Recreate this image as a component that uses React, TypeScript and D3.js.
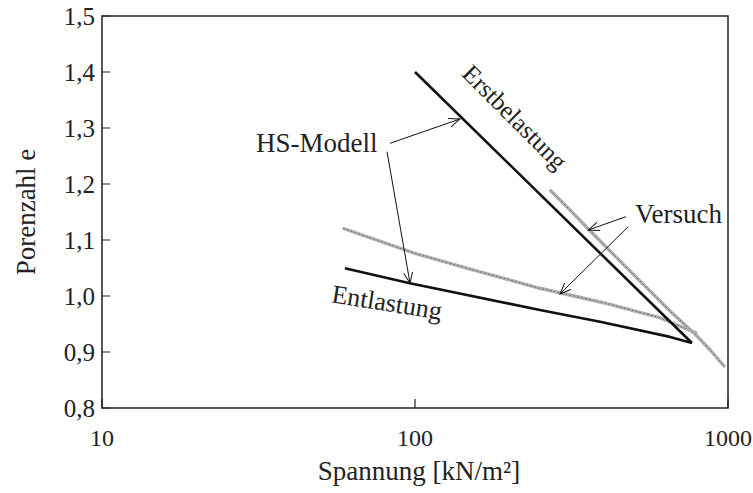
import React from "react";
import * as d3 from "d3";

// ---- data (σ in kN/m², e = Porenzahl) ----
const hsLoadSigma = [100, 767];
const hsLoadE = [1.4, 0.916];
const hsUnloadSigma = [767, 653, 390, 250.6, 96.3, 59.7];
const hsUnloadE = [0.916, 0.927, 0.954, 0.975, 1.0227, 1.0495];
const testLoadSigma = [270, 312.8, 357.9, 419.8, 523.4, 652.8, 796, 888.8, 977];
const testLoadE = [1.1893, 1.1536, 1.1196, 1.0804, 1.0268, 0.9732, 0.9286, 0.9, 0.8732];
const testUnloadSigma = [796, 600, 400, 250.6, 150, 100, 58.8];
const testUnloadE = [0.9334, 0.962, 0.988, 1.0138, 1.048, 1.076, 1.121];

const xTicks = [10, 100, 1000];
const yTicks = [0.8, 0.9, 1.0, 1.1, 1.2, 1.3, 1.4, 1.5];

const W = 753, H = 493;
const M = { left: 102, right: 728, top: 16, bottom: 408 };
const FONT = "'Liberation Serif', 'Times New Roman', serif";

export default function App() {
  const x = d3.scaleLog().domain([10, 1000]).range([M.left, M.right]);
  const y = d3.scaleLinear().domain([0.8, 1.5]).range([M.bottom, M.top]);
  const line = d3
    .line<[number, number]>()
    .x((d) => x(d[0]))
    .y((d) => y(d[1]));
  const zip = (a: number[], b: number[]) => a.map((v, i) => [v, b[i]] as [number, number]);

  const arrows: [number, number, number, number][] = [
    [83.2, 1.2727, 139.2, 1.316],
    [81.4, 1.2577, 96.4, 1.0227],
    [472, 1.1416, 357.9, 1.1179],
    [480, 1.1238, 290.5, 1.0036],
  ];

  const grayPath = (p: string | null, key: string) => (
    <g key={key}>
      <path d={p || ""} fill="none" stroke="#b0b0b0" strokeWidth={3.4} strokeLinejoin="round" />
      <path d={p || ""} fill="none" stroke="#5e5e5e" strokeWidth={0.9} strokeDasharray="1.5 2.5" />
    </g>
  );

  return (
    <svg width={W} height={H} style={{ display: "block", position: "absolute", left: 0, top: 0, background: "#fff" }}>
      <defs>
        <marker id="ah" viewBox="0 0 12 10" refX="11" refY="5" markerWidth="12" markerHeight="10" orient="auto" markerUnits="userSpaceOnUse">
          <path d="M0,0.5 L11,5 L0,9.5" fill="none" stroke="#111" strokeWidth={1} />
        </marker>
      </defs>
      {/* frame */}
      <rect x={M.left} y={M.top} width={M.right - M.left} height={M.bottom - M.top} fill="none" stroke="#222" strokeWidth={1.5} />
      {/* y ticks */}
      {yTicks.map((t) => (
        <g key={"y" + t}>
          <line x1={M.left} x2={M.left + 8} y1={y(t)} y2={y(t)} stroke="#222" strokeWidth={1} />
          <text x={M.left - 7} y={y(t)} dy="0.35em" textAnchor="end" fontFamily={FONT} fontSize={25} fill="#222">
            {t.toFixed(1).replace(".", ",")}
          </text>
        </g>
      ))}
      {/* x ticks */}
      {xTicks.map((t) => (
        <g key={"x" + t}>
          <line x1={x(t)} x2={x(t)} y1={M.bottom} y2={M.bottom - 9} stroke="#222" strokeWidth={1.2} />
          <text x={x(t)} y={M.bottom + 38} textAnchor="middle" fontFamily={FONT} fontSize={24} fill="#222">
            {t}
          </text>
        </g>
      ))}
      <text x={(M.left + M.right) / 2 + 4} y={480} textAnchor="middle" fontFamily={FONT} fontSize={27} fill="#222">
        Spannung [kN/m²]
      </text>
      <text transform={`translate(35,${(M.top + M.bottom) / 2}) rotate(-90)`} textAnchor="middle" fontFamily={FONT} fontSize={27} fill="#222">
        Porenzahl e
      </text>

      {/* Versuch (gray) */}
      {grayPath(line(zip(testUnloadSigma, testUnloadE)), "tu")}
      {grayPath(line(zip(testLoadSigma, testLoadE)), "tl")}

      {/* HS-Modell (black) */}
      <path d={line(zip(hsLoadSigma, hsLoadE)) || ""} fill="none" stroke="#111" strokeWidth={2.6} strokeLinejoin="round" />
      <path d={line(zip(hsUnloadSigma, hsUnloadE)) || ""} fill="none" stroke="#111" strokeWidth={2.6} strokeLinejoin="round" />

      {/* annotations */}
      {arrows.map((a, i) => (
        <line key={"a" + i} x1={x(a[0])} y1={y(a[1])} x2={x(a[2])} y2={y(a[3])} stroke="#111" strokeWidth={1} markerEnd="url(#ah)" />
      ))}
      <text x={x(31.05)} y={y(1.2577)} fontFamily={FONT} fontSize={27} fill="#222">HS-Modell</text>
      <text x={x(504.6)} y={y(1.1298)} fontFamily={FONT} fontSize={27} fill="#222">Versuch</text>
      <text transform={`translate(${x(208.7)},${y(1.3196)}) rotate(45)`} textAnchor="middle" dy="0.35em" fontFamily={FONT} fontSize={25} fill="#222">
        Erstbelastung
      </text>
      <text transform={`translate(${x(81.4)},${y(0.9893)}) rotate(9)`} textAnchor="middle" dy="0.35em" fontFamily={FONT} fontSize={26} fill="#222">
        Entlastung
      </text>
    </svg>
  );
}
